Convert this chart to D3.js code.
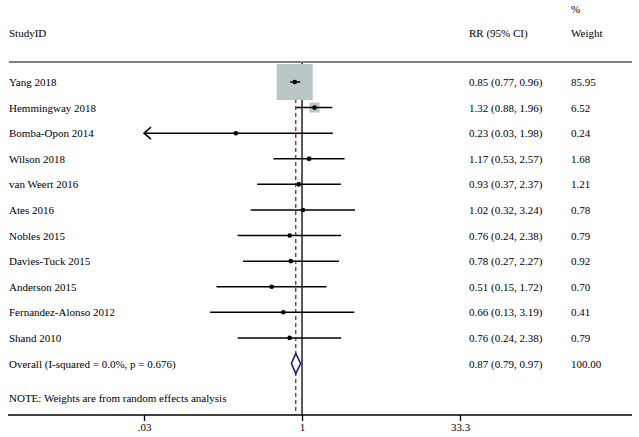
<!DOCTYPE html>
<html><head><meta charset="utf-8">
<script src="https://cdn.jsdelivr.net/npm/d3@7"></script>
<style>body{margin:0;background:#fff}svg{display:block}text{font-family:"Liberation Serif","Times New Roman",serif;font-size:11px;fill:#000}</style>
</head><body>
<script>
const studies = ["Yang 2018","Hemmingway 2018","Bomba-Opon 2014","Wilson 2018","van Weert 2016","Ates 2016","Nobles 2015","Davies-Tuck 2015","Anderson 2015","Fernandez-Alonso 2012","Shand 2010"];
const rr     = [0.85,1.32,0.23,1.17,0.93,1.02,0.76,0.78,0.51,0.66,0.76];
const lower  = [0.77,0.88,0.03,0.53,0.37,0.32,0.24,0.27,0.15,0.13,0.24];
const upper  = [0.96,1.96,1.98,2.57,2.37,3.24,2.38,2.27,1.72,3.19,2.38];
const weights= [85.95,6.52,0.24,1.68,1.21,0.78,0.79,0.92,0.70,0.41,0.79];
const overallLabel = "Overall  (I-squared = 0.0%, p = 0.676)";
const overall = {rr:0.87, lo:0.79, hi:0.97, w:100.00};
const tickValues = [0.03, 1, 33.3];
const tickLabels = [".03", "1", "33.3"];

const W = 639, H = 437;
const svg = d3.select("body").append("svg").attr("width", W).attr("height", H);

const x = d3.scaleLog().domain([0.03, 33.3]).range([144, 460]);
const rows = studies.map((d,i)=>i).concat([studies.length]);
const y = d3.scalePoint().domain(rows).range([82, 363.5]);
const boxScale = d3.scaleSqrt().domain([0, d3.max(weights)]).range([0, 36]);

const fmt = v => v.toFixed(2);
const axisY = 415, headerY = 62;

// header
svg.append("text").attr("x", 571).attr("y", 13).text("%");
svg.append("text").attr("x", 9).attr("y", 37).text("StudyID");
svg.append("text").attr("x", 469).attr("y", 37).text("RR (95% CI)");
svg.append("text").attr("x", 571).attr("y", 37).text("Weight");
svg.append("line").attr("x1", 9).attr("x2", 632).attr("y1", headerY).attr("y2", headerY)
  .attr("stroke", "#7f7f7f").attr("stroke-width", 2.2);

// null line at 1
svg.append("line").attr("x1", x(1)).attr("x2", x(1)).attr("y1", headerY+1).attr("y2", axisY)
  .attr("stroke", "#000").attr("stroke-width", 1.3);
// overall dashed line
svg.append("line").attr("x1", x(overall.rr)).attr("x2", x(overall.rr)).attr("y1", headerY+2).attr("y2", axisY)
  .attr("stroke", "#8f1d3a").attr("stroke-width", 1.3).attr("stroke-dasharray", "4,3");

// boxes
const g = svg.append("g");
studies.forEach((s,i)=>{
  const s2 = boxScale(weights[i]);
  g.append("rect").attr("x", x(rr[i]) - s2/2).attr("y", y(i) - s2/2)
    .attr("width", s2).attr("height", s2).attr("fill", "#bac5c5");
});
// CI lines
studies.forEach((s,i)=>{
  const lo = Math.max(lower[i], x.domain()[0]);
  const hi = Math.min(upper[i], x.domain()[1]);
  g.append("line").attr("x1", x(lo)).attr("x2", x(hi)).attr("y1", y(i)).attr("y2", y(i))
    .attr("stroke", "#000").attr("stroke-width", 1.5);
  if (lower[i] <= x.domain()[0]) {
    const ax = x(x.domain()[0]), ay = y(i);
    g.append("path").attr("d", `M${ax+7},${ay-6}L${ax},${ay}L${ax+7},${ay+6}`)
      .attr("fill", "none").attr("stroke", "#000").attr("stroke-width", 1.5);
  }
  g.append("circle").attr("cx", x(rr[i])).attr("cy", y(i)).attr("r", 2.3).attr("fill", "#000");
});
// labels
studies.forEach((s,i)=>{
  svg.append("text").attr("x", 9).attr("y", y(i)+4).text(s);
  svg.append("text").attr("x", 469).attr("y", y(i)+4).text(`${fmt(rr[i])} (${fmt(lower[i])}, ${fmt(upper[i])})`);
  svg.append("text").attr("x", 571).attr("y", y(i)+4).text(fmt(weights[i]));
});
// overall
const oy = y(studies.length);
svg.append("path").attr("d", `M${x(overall.lo)},${oy}L${x(overall.rr)},${oy-10}L${x(overall.hi)},${oy}L${x(overall.rr)},${oy+10}Z`)
  .attr("fill", "#fff").attr("stroke", "#1c1c7a").attr("stroke-width", 1.6);
svg.append("text").attr("x", 9).attr("y", oy+4).text(overallLabel);
svg.append("text").attr("x", 469).attr("y", oy+4).text(`${fmt(overall.rr)} (${fmt(overall.lo)}, ${fmt(overall.hi)})`);
svg.append("text").attr("x", 571).attr("y", oy+4).text(fmt(overall.w));

svg.append("text").attr("x", 9).attr("y", 402).text("NOTE: Weights are from random effects analysis");

// axis
const axis = d3.axisBottom(x).tickValues(tickValues).tickFormat((d,i)=>tickLabels[i]).tickSize(6).tickSizeOuter(0);
const ag = svg.append("g").attr("transform", `translate(0,${axisY})`).call(axis);
ag.select(".domain").remove();
ag.append("line").attr("x1", 8).attr("x2", 632).attr("stroke", "#000").attr("stroke-width", 1.3);
ag.selectAll(".tick line").attr("stroke", "#000").attr("stroke-width", 1.3);
ag.selectAll(".tick text").attr("font-family", "Liberation Serif").attr("font-size", 11).attr("fill", "#000").attr("dy", "0.9em").attr("y", 6);
</script>
</body></html>
